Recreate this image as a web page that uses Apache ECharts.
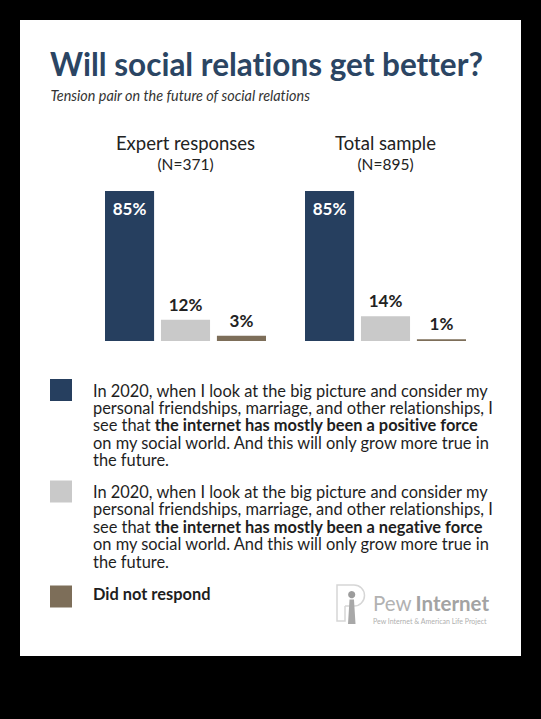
<!DOCTYPE html>
<html><head><meta charset="utf-8">
<script src="https://cdn.jsdelivr.net/npm/echarts@6/dist/echarts.min.js"></script>
<style>
html,body{margin:0;padding:0;background:#000;width:541px;height:719px;overflow:hidden}
#c{position:absolute;left:20px;top:20px;width:501px;height:636px;background:#fff}
#c text{font-variant-ligatures:none;font-feature-settings:"liga" 0,"clig" 0}
</style></head>
<body><div id="c"></div>
<script>
// ---- data ----
var titleText = 'Will social relations get better?';
var subtitleText = 'Tension pair on the future of social relations';
var groups = ['Expert responses', 'Total sample'];
var groupN = ['(N=371)', '(N=895)'];
var seriesNames = ['positive', 'negative', 'noresponse'];
var positiveVals = [85, 85];
var negativeVals = [12, 14];
var noRespVals = [3, 1];
var colors = ['#263f5f', '#c9c9c9', '#7d6e59'];
var legendLines = {
  positive: [['n','In 2020, when I look at the big picture and consider my'],
             ['n','personal friendships, marriage, and other relationships, I'],
             ['n','see that '],['b','the internet has mostly been a positive force'],
             ['n','on my social world. And this will only grow more true in'],
             ['n','the future.']],
  negative: [['n','In 2020, when I look at the big picture and consider my'],
             ['n','personal friendships, marriage, and other relationships, I'],
             ['n','see that '],['b','the internet has mostly been a negative force'],
             ['n','on my social world. And this will only grow more true in'],
             ['n','the future.']],
  noresponse: [['b','Did not respond']]
};
var lineBreaksBefore = {positive:[1,2,4,5], negative:[1,2,4,5], noresponse:[]};

var FONT = 'Lato';
var LH = 17.4;

function legendText(name){
  var parts = legendLines[name], s = '';
  for (var i=0;i<parts.length;i++){
    if (lineBreaksBefore[name].indexOf(i) >= 0) s += '\n';
    s += '{' + parts[i][0] + '|' + parts[i][1] + '}';
  }
  return s;
}

var chart = echarts.init(document.getElementById('c'), null, {renderer:'svg'});

var valueLists = [positiveVals, negativeVals, noRespVals];
var series = seriesNames.map(function(n, i){
  return {
    name: n, type: 'bar', data: valueLists[i],
    barGap: '14%', barCategoryGap: '19.5%',
    itemStyle: {color: colors[i]},
    label: i === 0 ? {
      show: true, position: 'insideTop', distance: 9,
      formatter: '{c}%', color: '#fff', fontFamily: FONT, fontWeight: 'bold', fontSize: 17
    } : {
      show: true, position: 'top', distance: 7,
      formatter: '{c}%', color: '#222', fontFamily: FONT, fontWeight: 'bold', fontSize: 17
    }
  };
});

var legendRich = {
  n: {fontFamily: FONT, fontSize: 16.4, color: '#1e1e1e', lineHeight: LH},
  b: {fontFamily: FONT, fontSize: 16.4, fontWeight: 'bold', color: '#1e1e1e', lineHeight: LH}
};
function makeLegend(name, iconMidY, lift){
  var nLines = lineBreaksBefore[name].length + 1;
  var padTop = (nLines - 1) * LH;
  return {
    data: [name], orient: 'vertical', left: 30, top: iconMidY - 11,
    padding: 0, itemWidth: 22, itemHeight: 22, icon: 'rect',
    selectedMode: false,
    formatter: legendText,
    textStyle: {padding: [padTop, 0, lift * 2, 16], rich: legendRich, color: '#1e1e1e'}
  };
}

chart.setOption({
  animation: false,
  textStyle: {fontFamily: FONT},
  title: [
    {text: titleText, left: 30, top: 28.5, padding: 0,
     textStyle: {fontFamily: FONT, fontWeight: 'bold', fontSize: 31.5, color: '#2b4563', lineHeight: 31}},
    {text: subtitleText, left: 30.5, top: 68, padding: 0,
     textStyle: {fontFamily: FONT, fontStyle: 'italic', fontWeight: 'normal', fontSize: 14.4, color: '#333', lineHeight: 14}}
  ],
  grid: {left: 65.5, width: 400, top: 144.5, height: 176.5, containLabel: false},
  xAxis: {
    type: 'category', position: 'top', data: groups,
    axisLine: {show: false}, axisTick: {show: false}, splitLine: {show: false},
    axisLabel: {
      interval: 0, margin: -10,
      formatter: function(v, idx){ return '{a|' + v + '}\n{b|' + groupN[idx] + '}'; },
      rich: {
        a: {fontFamily: FONT, fontSize: 18.5, color: '#222', lineHeight: 21},
        b: {fontFamily: FONT, fontSize: 15.5, color: '#222', lineHeight: 21}
      }
    }
  },
  yAxis: {type: 'value', min: 0, max: 100, show: false},
  legend: [
    makeLegend('positive', 370, 0),
    makeLegend('negative', 471.5, 0),
    makeLegend('noresponse', 576.5, 3)
  ],
  series: series,
  graphic: [
    {type: 'polyline', shape: {points: [[325, 586], [325, 601], [317, 601], [317, 565], [334, 565]]},
     style: {fill: 'none', stroke: '#d6d6d6', lineWidth: 1.5}},
    {type: 'arc', shape: {cx: 334, cy: 575.5, r: 10.5, startAngle: -Math.PI / 2, endAngle: Math.PI / 2, clockwise: true},
     style: {fill: 'none', stroke: '#d6d6d6', lineWidth: 1.5}},
    {type: 'line', shape: {x1: 334, y1: 586, x2: 325, y2: 586}, style: {stroke: '#d6d6d6', lineWidth: 1.5}},
    {type: 'circle', shape: {cx: 331.7, cy: 574.7, r: 3.6}, style: {fill: '#9c9c9c'}},
    {type: 'polygon', shape: {points: [[329.5, 579.5], [334, 579.5], [335.5, 604], [328, 604]]}, style: {fill: '#a8a8a8'}},
    {type: 'text', x: 353, y: 583, style: {
      text: '{l|Pew}{b|Internet}', verticalAlign: 'middle', align: 'left',
      rich: {
        l: {fontFamily: FONT, fontSize: 20.5, fontWeight: 'normal', fill: '#b2b2b2', padding: [0, 4, 0, 0]},
        b: {fontFamily: FONT, fontSize: 20.5, fontWeight: 'bold', fill: '#a3a3a3'}
      }}},
    {type: 'text', x: 353, y: 600.7, style: {
      text: 'Pew Internet & American Life Project', verticalAlign: 'middle', align: 'left',
      fontFamily: FONT, fontSize: 7, fill: '#b0b0b0'}}
  ]
});
</script></body></html>
